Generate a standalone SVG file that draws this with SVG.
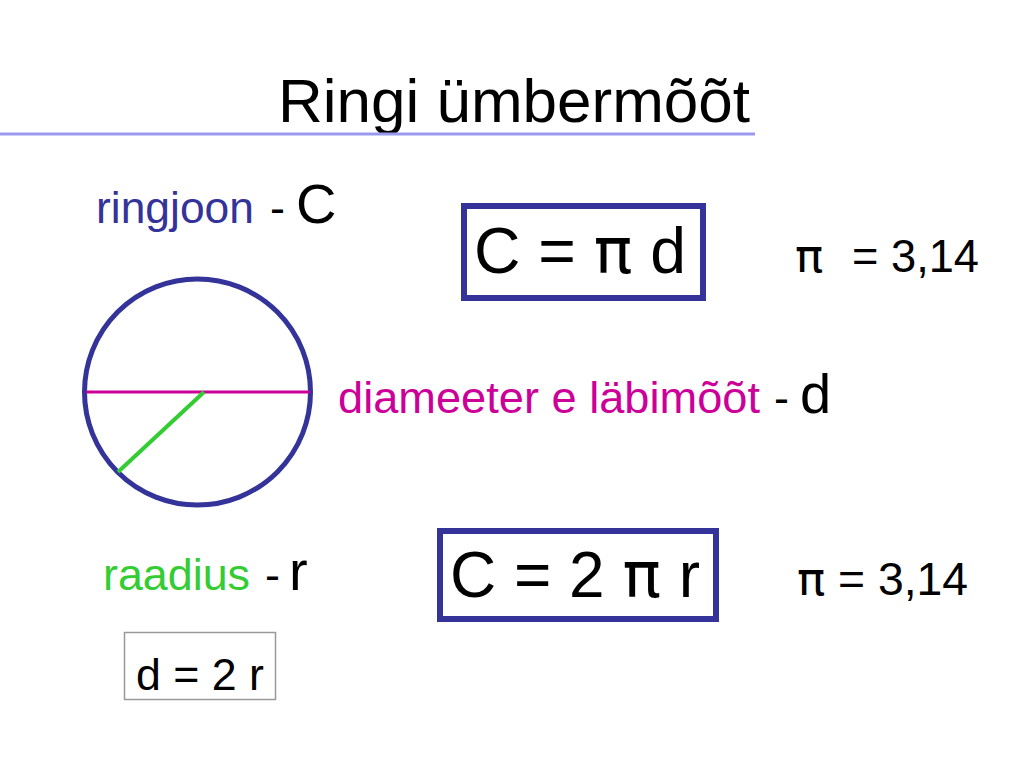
<svg xmlns="http://www.w3.org/2000/svg" width="1024" height="768" viewBox="0 0 1024 768">
<style>
text{font-family:"Liberation Sans",Arial,sans-serif}
.pi{font-family:"DejaVu Sans","Liberation Sans",sans-serif}
.blk{fill:#000}
.blue{fill:#333399}
.mag{fill:#cc0099}
.grn{fill:#33cc33}
.box{fill:none;stroke:#333399;stroke-width:6}
</style>
<rect width="1024" height="768" fill="#fff"/>
<g id="title">
<text x="278" y="122" font-size="62" class="blk" textLength="472" lengthAdjust="spacingAndGlyphs">Ringi ümbermõõt</text>
<line x1="0" y1="134" x2="755" y2="134" stroke="#9999ee" stroke-width="3"/>
</g>
<g id="circle">
<circle cx="197.5" cy="392" r="113" fill="none" stroke="#333399" stroke-width="5"/>
<line x1="86" y1="392" x2="310" y2="392" stroke="#cc0099" stroke-width="3"/>
<line x1="204" y1="392" x2="118" y2="472" stroke="#33cc33" stroke-width="4"/>
</g>
<g id="ringjoon">
<text y="223" font-size="45"><tspan class="blue" x="96" textLength="158" lengthAdjust="spacingAndGlyphs">ringjoon</tspan><tspan class="blk" x="270">-</tspan><tspan class="blk" x="296" font-size="56">C</tspan></text>
</g>
<g id="formula1">
<rect class="box" x="464" y="206" width="239" height="92"/>
<text x="474" y="273" font-size="64" class="blk" textLength="212" lengthAdjust="spacingAndGlyphs">C = <tspan class="pi">π</tspan> d</text>
</g>
<g id="pi1">
<text y="272" font-size="47" class="blk"><tspan class="pi" x="795">π</tspan><tspan x="852" textLength="127" lengthAdjust="spacingAndGlyphs">= 3,14</tspan></text>
</g>
<g id="diameeter">
<text y="413" font-size="45"><tspan class="mag" x="338" textLength="422" lengthAdjust="spacingAndGlyphs">diameeter e läbimõõt</tspan><tspan class="blk" x="774">-</tspan><tspan class="blk" x="800" font-size="56">d</tspan></text>
</g>
<g id="formula2">
<rect class="box" x="440" y="531" width="276" height="88"/>
<text x="450" y="597" font-size="64" class="blk" textLength="250" lengthAdjust="spacingAndGlyphs">C = 2 <tspan class="pi">π</tspan> r</text>
</g>
<g id="pi2">
<text y="595" font-size="47" class="blk"><tspan class="pi" x="797">π</tspan><tspan x="838" textLength="130" lengthAdjust="spacingAndGlyphs">= 3,14</tspan></text>
</g>
<g id="raadius">
<text y="590" font-size="45"><tspan class="grn" x="103" textLength="147" lengthAdjust="spacingAndGlyphs">raadius</tspan><tspan class="blk" x="265">-</tspan><tspan class="blk" x="289" font-size="56">r</tspan></text>
</g>
<g id="d2r">
<rect x="124.5" y="632.5" width="151" height="67" fill="none" stroke="#999999" stroke-width="1.5"/>
<text x="136" y="690" font-size="44" class="blk" textLength="128" lengthAdjust="spacingAndGlyphs">d = 2 r</text>
</g>
</svg>
